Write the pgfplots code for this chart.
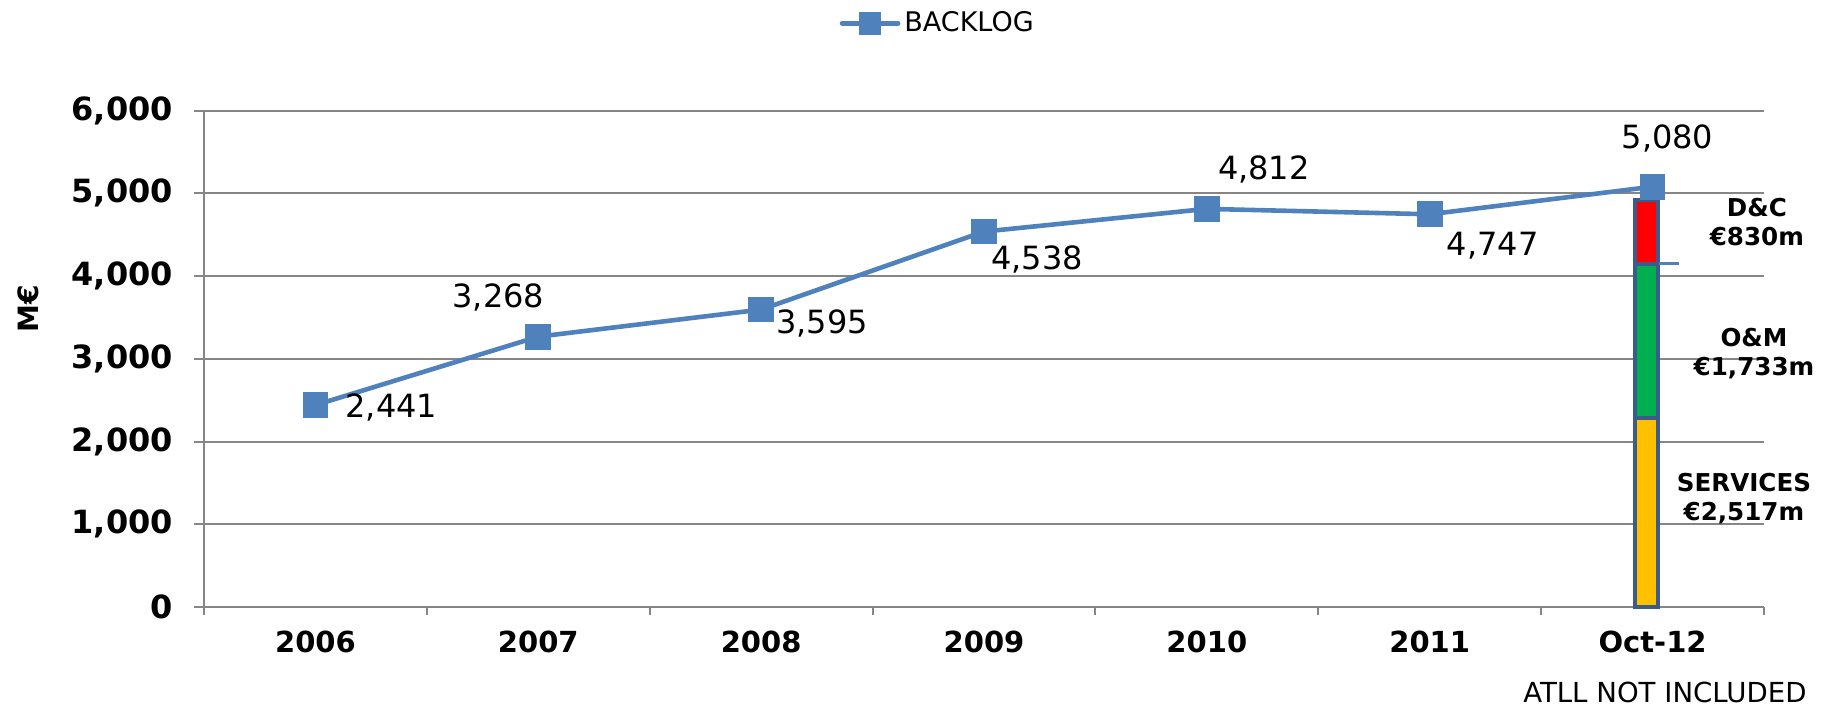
\documentclass[border=0pt]{standalone}
\usepackage{fontspec}
\setmainfont{DejaVu Sans}
\usepackage{pgfplots}
\usepackage{pgfplotstable}
\pgfplotsset{compat=1.18}

\definecolor{backlog}{HTML}{4F81BD}
\definecolor{barframe}{HTML}{3B5B8C}
\definecolor{gridgray}{HTML}{868686}
\definecolor{services}{HTML}{FFC000}
\definecolor{om}{HTML}{00B050}
\definecolor{dc}{HTML}{FF0000}

% backlog per year, with label offsets (pt)
\pgfplotstableread{
x y    dx   dy
0 2441 38   -1
1 3268 -20  19.5
2 3595 30.5 -7
3 4538 26.5 -14
4 4812 28.5 19.5
5 4747 31.5 -15.5
6 5080 7.5  24
}\backlogdata

\begin{document}
\begin{tikzpicture}
\begin{axis}[
  at={(102pt,51pt)}, anchor=south west,
  scale only axis, width=780pt, height=248.2pt,
  xmin=-0.5, xmax=6.5, ymin=0, ymax=6000,
  clip=false,
  axis x line*=bottom, axis y line*=left,
  axis line style={gridgray, line width=1pt, -},
  xtick={0,...,6},
  xticklabels={2006,2007,2008,2009,2010,2011,Oct-12},
  minor xtick={-0.5,0.5,...,6.5},
  ytick={0,1000,...,6000},
  scaled y ticks=false,
  tick align=outside,
  major tick length=5pt, minor tick length=4pt,
  major x tick style={draw=none},
  tick style={gridgray, line width=1pt},
  ymajorgrids, grid style={gridgray, line width=1pt},
  /pgf/number format/assume math mode=true,
  xticklabel style={yshift=-3.5pt, font=\bfseries\fontsize{14.5}{14.5}\selectfont},
  yticklabel style={xshift=-7pt, font=\bfseries\fontsize{16}{16}\selectfont},
  ylabel={M€},
  ylabel style={at={(axis description cs:-0.1125,0.60)}, anchor=center,
    font=\bfseries\fontsize{14}{14}\selectfont},
  legend style={at={(axis description cs:0.471,1.176)}, anchor=center,
    draw=none, font=\fontsize{13.5}{13.5}\selectfont},
  legend image code/.code={
    \draw[backlog, line width=2.3pt, line cap=round] (0pt,0pt) -- (28pt,0pt);
    \fill[backlog] (9.5pt,-4.5pt) rectangle (18.5pt,4.5pt);
  },
]
% Oct-12 split of the backlog
\addplot[ybar, bar width=11.5pt, bar shift=-3pt, fill=dc, draw=barframe,
  line width=2.2pt, forget plot] coordinates {(6,4921)};
\addplot[ybar, bar width=11.5pt, bar shift=-3pt, fill=om, draw=barframe,
  line width=2.2pt, forget plot] coordinates {(6,4148)};
\addplot[ybar, bar width=11.5pt, bar shift=-3pt, fill=services, draw=barframe,
  line width=2.2pt, forget plot] coordinates {(6,2285)};
\addplot[backlog, line width=1.5pt, forget plot] coordinates {(6.03,4148) (6.12,4148)};

\addplot[backlog, line width=2.3pt, mark=square*,
  mark size=6.2pt, mark options={solid, line width=0.5pt},
  nodes near coords, point meta=explicit,
  visualization depends on={\thisrow{dx} \as \dx},
  visualization depends on={\thisrow{dy} \as \dy},
  every node near coord/.append style={anchor=center, text=black,
    xshift=\dx pt, yshift=\dy pt, font=\fontsize{16}{16}\selectfont},
] table[x=x, y=y, meta=y] {\backlogdata};
\addlegendentry{BACKLOG}

\node[align=center, font=\bfseries\fontsize{12.3}{14.5}\selectfont]
  at (axis cs:6.468,4655) {D\&C\\€830m};
\node[align=center, font=\bfseries\fontsize{12.3}{14.5}\selectfont]
  at (axis cs:6.455,3059) {O\&M\\€1,733m};
\node[align=center, font=\bfseries\fontsize{12.3}{14.5}\selectfont]
  at (axis cs:6.41,1306) {SERVICES\\€2,517m};
\node[font=\fontsize{13.8}{13.8}\selectfont]
  at (axis description cs:0.9365,-0.173) {ATLL NOT INCLUDED};
\end{axis}
\pgfresetboundingbox
\useasboundingbox (0,0) rectangle (914pt,354.5pt);
\end{tikzpicture}
\end{document}
